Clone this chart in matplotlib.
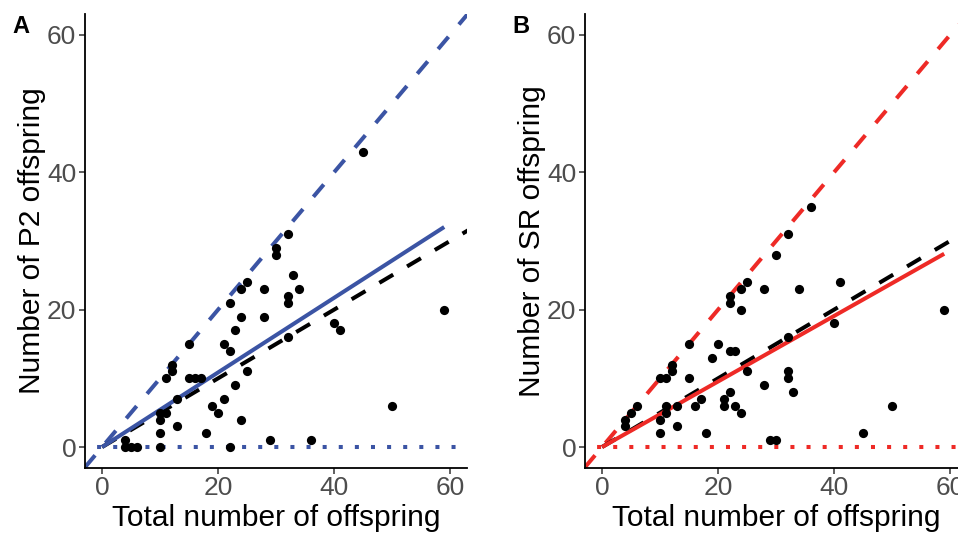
import numpy as np
import matplotlib
matplotlib.use('Agg')
import matplotlib.pyplot as plt

plt.rcParams['font.family'] = ['Liberation Sans', 'DejaVu Sans']

blue = '#3B54A4'
red = '#EE2A26'

# panel A: total offspring vs P2 offspring
total_a = [4, 4, 5, 6, 10, 10, 10, 10, 11, 11, 12, 12, 13, 13, 15, 15, 16, 17, 18, 19,
           20, 21, 21, 22, 22, 22, 23, 23, 24, 24, 24, 25, 25, 28, 28, 29, 30, 30,
           32, 32, 32, 32, 33, 34, 36, 40, 41, 45, 50, 59]
p2 = [1, 0, 0, 0, 0, 2, 4, 5, 5, 10, 11, 12, 3, 7, 15, 10, 10, 10, 2, 6,
      5, 7, 15, 14, 0, 21, 9, 17, 4, 19, 23, 11, 24, 23, 19, 1, 29, 28,
      31, 22, 21, 16, 25, 23, 1, 18, 17, 43, 6, 20]

# panel B: total offspring vs SR offspring
total_b = [4, 4, 5, 6, 10, 10, 10, 11, 11, 11, 12, 12, 13, 13, 15, 15, 16, 17, 18, 19,
           20, 21, 21, 22, 22, 22, 22, 23, 23, 24, 24, 24, 25, 25, 28, 28, 29, 30, 30,
           32, 32, 32, 32, 33, 34, 36, 40, 41, 45, 50, 59]
sr = [4, 3, 5, 6, 2, 4, 10, 5, 6, 10, 11, 12, 3, 6, 10, 15, 6, 7, 2, 13,
      15, 7, 6, 8, 14, 22, 21, 14, 6, 5, 20, 23, 24, 11, 23, 9, 1, 1, 28,
      31, 16, 11, 10, 8, 23, 35, 18, 24, 2, 6, 20]

# fitted proportions (line through origin) and null expectation
slope_a = 0.543
slope_b = 0.477
null_slope = 0.5

ticks = [0, 20, 40, 60]

fig = plt.figure(figsize=(9.58, 5.37), dpi=100)
ax_a = fig.add_axes([0.0884, 0.1292, 0.3995, 0.8440])
ax_b = fig.add_axes([0.6103, 0.1292, 0.3995, 0.8440])

panels = [
    (ax_a, total_a, p2, slope_a, blue, 'Number of P2 offspring', 'A'),
    (ax_b, total_b, sr, slope_b, red, 'Number of SR offspring', 'B'),
]

for ax, tot, y, slope, col, ylab, tag in panels:
    tot = np.array(tot)
    ax.set_xlim(-3, 63)
    ax.set_ylim(-3, 63)
    lw = 2.9
    # 1:1 line
    ax.axline((0, 0), slope=1, color=col, lw=lw, dashes=(4, 4), zorder=2)
    # zero line
    ax.axhline(0, color=col, lw=lw, linestyle=(1, (1, 3)), zorder=2)
    # null expectation
    xs = np.array([0, 63.5])
    ax.plot(xs, null_slope * xs, color='black', lw=lw, dashes=(4, 4), zorder=3)
    # fitted line
    xf = np.array([0, tot.max()])
    ax.plot(xf, slope * xf, color=col, lw=lw, solid_capstyle='butt', zorder=4)
    ax.scatter(tot, y, s=44, color='black', linewidths=0, zorder=5, clip_on=False)

    ax.spines['top'].set_visible(False)
    ax.spines['right'].set_visible(False)
    for s in ['left', 'bottom']:
        ax.spines[s].set_linewidth(1.3)
    ax.set_xticks(ticks)
    ax.set_yticks(ticks)
    ax.tick_params(labelsize=19, labelcolor='#4D4D4D', color='#333333',
                   length=4, width=1.1, pad=2)
    ax.set_xlabel('Total number of offspring', fontsize=21.5, labelpad=3)
    ax.set_ylabel(ylab, fontsize=21.5, labelpad=1)
    ax.text(-0.19, 0.998, tag, transform=ax.transAxes, fontsize=17,
            fontweight='bold', ha='left', va='top')

fig.savefig('out.png', dpi=100)
